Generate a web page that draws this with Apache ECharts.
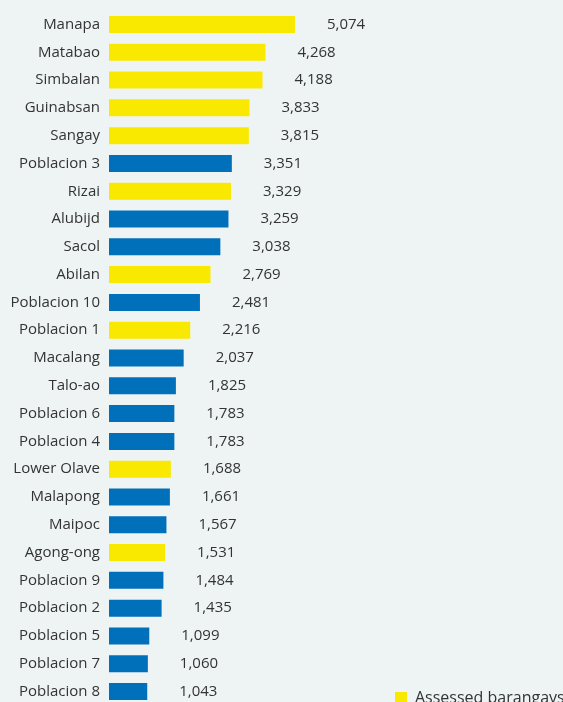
<!DOCTYPE html>
<html>
<head>
<meta charset="utf-8">
<script src="https://cdn.jsdelivr.net/npm/echarts@6/dist/echarts.min.js"></script>
<style>
html,body{margin:0;padding:0;background:#eef4f4;overflow:hidden;}
#chart{width:563px;height:730px;}
</style>
</head>
<body>
<div id="chart"></div>
<script>
const categories = ['Manapa','Matabao','Simbalan','Guinabsan','Sangay','Poblacion 3','Rizai','Alubijd','Sacol','Abilan','Poblacion 10','Poblacion 1','Macalang','Talo-ao','Poblacion 6','Poblacion 4','Lower Olave','Malapong','Maipoc','Agong-ong','Poblacion 9','Poblacion 2','Poblacion 5','Poblacion 7','Poblacion 8'];
const values = [5074,4268,4188,3833,3815,3351,3329,3259,3038,2769,2481,2216,2037,1825,1783,1783,1688,1661,1567,1531,1484,1435,1099,1060,1043];
const assessed = ['Manapa','Matabao','Simbalan','Guinabsan','Sangay','Rizai','Abilan','Poblacion 1','Lower Olave','Agong-ong'];

const assessedData = categories.map((c,i)=> assessed.includes(c) ? values[i] : '-');
const otherData = categories.map((c,i)=> assessed.includes(c) ? '-' : values[i]);

const FONT = 'Open Sans';
const labelCfg = {
  show: true, position: 'right', distance: 32,
  color: '#333', fontSize: 15, fontFamily: FONT,
  formatter: p => Number(p.value).toLocaleString('en-US')
};

const chart = echarts.init(document.getElementById('chart'));
chart.setOption({
  backgroundColor: '#eef4f4',
  animation: false,
  grid: {left: 109, top: 10.6, width: 186, height: 694.8, containLabel: false},
  xAxis: {type: 'value', min: 0, max: 5074, show: false},
  yAxis: {
    type: 'category', data: categories, inverse: true,
    axisLine: {show: false}, axisTick: {show: false},
    axisLabel: {color: '#333', fontSize: 15, fontFamily: FONT, margin: 9}
  },
  legend: {
    data: ['Assessed barangays'], left: 395, top: 690, padding: 0,
    itemWidth: 12, itemHeight: 12, icon: 'rect', itemGap: 8,
    textStyle: {color: '#333', fontSize: 16, fontFamily: FONT, padding: [0, 0, 0, 3]}
  },
  series: [
    {name: 'Assessed barangays', type: 'bar', data: assessedData, stack: 'a', barWidth: 17,
     itemStyle: {color: '#f9e900'}, label: labelCfg},
    {name: 'Other barangays', type: 'bar', data: otherData, stack: 'a', barWidth: 17,
     itemStyle: {color: '#0070ba'}, label: labelCfg}
  ]
});
</script>
</body>
</html>
